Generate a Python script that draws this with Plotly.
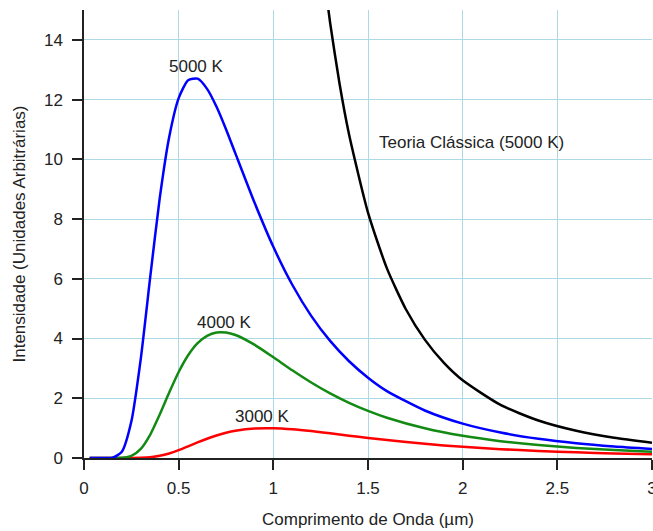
import plotly.graph_objects as go

# wavelength grid (µm)
wavelength = [0.03, 0.1, 0.15, 0.2, 0.25, 0.3, 0.35, 0.4, 0.45, 0.5, 0.55, 0.6, 0.65, 0.7,
              0.75, 0.8, 0.9, 1.0, 1.1, 1.2, 1.3, 1.4, 1.5, 1.6, 1.8, 2.0, 2.2, 2.4, 2.6, 2.8, 3.0]

intensity_5000 = [0.0, 0.0, 0.007, 0.21, 1.22, 3.33, 6.07, 8.70, 10.75, 12.05, 12.65,
                  12.70, 12.36, 11.76, 11.01, 10.19, 8.56, 7.07, 5.80, 4.76, 3.92,
                  3.24, 2.69, 2.24, 1.59, 1.15, 0.853, 0.643, 0.493, 0.384, 0.303]

intensity_4000 = [0.0, 0.0, 0.0001, 0.0058, 0.069, 0.306, 0.784, 1.454, 2.191, 2.879, 3.44,
                  3.845, 4.092, 4.202, 4.202, 4.119, 3.795, 3.373, 2.936, 2.527, 2.162,
                  1.846, 1.576, 1.348, 0.994, 0.742, 0.563, 0.432, 0.337, 0.266, 0.213]

intensity_3000 = [0.0, 0.0, 0.0, 0.0, 0.0006, 0.0056, 0.0255, 0.0725, 0.1525, 0.2615, 0.388,
                  0.52, 0.645, 0.754, 0.844, 0.912, 0.988, 0.997, 0.962, 0.9005, 0.826,
                  0.748, 0.672, 0.600, 0.474, 0.374, 0.296, 0.236, 0.189, 0.153, 0.125]

classical_wavelength = [1.2, 1.25, 1.3, 1.35, 1.4, 1.5, 1.6, 1.7, 1.8, 1.9, 2.0, 2.2, 2.4, 2.6, 2.8, 3.0]
classical_5000 = [20.06, 17.04, 14.57, 12.52, 10.83, 8.217, 6.348, 4.981, 3.963, 3.192, 2.6,
                  1.776, 1.254, 0.910, 0.677, 0.514]

labels = ["5000 K", "4000 K", "3000 K", "Teoria Clássica (5000 K)"]
x_ticks = [0, 0.5, 1, 1.5, 2, 2.5, 3]
x_tick_text = ["0", "0.5", "1", "1.5", "2", "2.5", "3"]
y_ticks = [0, 2, 4, 6, 8, 10, 12, 14]

fig = go.Figure()
fig.add_trace(go.Scatter(x=wavelength, y=intensity_3000, mode="lines",
                         line=dict(color="#ff0000", width=2.5, shape="spline", smoothing=0.6)))
fig.add_trace(go.Scatter(x=wavelength, y=intensity_4000, mode="lines",
                         line=dict(color="#138a13", width=2.5, shape="spline", smoothing=0.6)))
fig.add_trace(go.Scatter(x=wavelength, y=intensity_5000, mode="lines",
                         line=dict(color="#0000ff", width=2.5, shape="spline", smoothing=0.6)))
fig.add_trace(go.Scatter(x=classical_wavelength, y=classical_5000, mode="lines",
                         line=dict(color="#000000", width=2.5, shape="spline", smoothing=0.6)))

tfont = dict(family="Liberation Sans, Arial, sans-serif", size=17, color="#222222")
fig.add_annotation(x=0.592, y=13.11, text=labels[0], showarrow=False, font=tfont)
fig.add_annotation(x=0.743, y=4.55, text=labels[1], showarrow=False, font=tfont)
fig.add_annotation(x=0.944, y=1.38, text=labels[2], showarrow=False, font=tfont)
fig.add_annotation(x=1.546, y=10.57, text=labels[3], showarrow=False, font=tfont, xanchor="left")

fig.update_layout(
    width=653, height=531,
    margin=dict(l=84, r=1, t=10, b=73),
    paper_bgcolor="white", plot_bgcolor="white",
    showlegend=False,
    font=tfont,
    xaxis=dict(range=[0, 3], tickvals=x_ticks, ticktext=x_tick_text,
               automargin=False, ticklabeloverflow="allow",
               showgrid=True, gridcolor="#add8e6", gridwidth=1.2,
               showline=True, linecolor="#222222", linewidth=1.5,
               ticks="outside", ticklen=10, tickcolor="#222222", tickwidth=1.5,
               ticklabelstandoff=4,
               zeroline=False,
               title=dict(text="Comprimento de Onda (µm)", font=tfont, standoff=16)),
    yaxis=dict(range=[0, 15], tickvals=y_ticks,
               automargin=False, ticklabeloverflow="allow",
               showgrid=True, gridcolor="#add8e6", gridwidth=1.2,
               showline=True, linecolor="#222222", linewidth=1.5,
               ticks="outside", ticklen=10, tickcolor="#222222", tickwidth=1.5,
               ticklabelstandoff=6,
               zeroline=False,
               title=dict(text="Intensidade (Unidades Arbitrárias)", font=tfont, standoff=14)),
)

fig.write_html("out.html", config={"displayModeBar": False},
               post_script="document.body.style.margin='0px';")
